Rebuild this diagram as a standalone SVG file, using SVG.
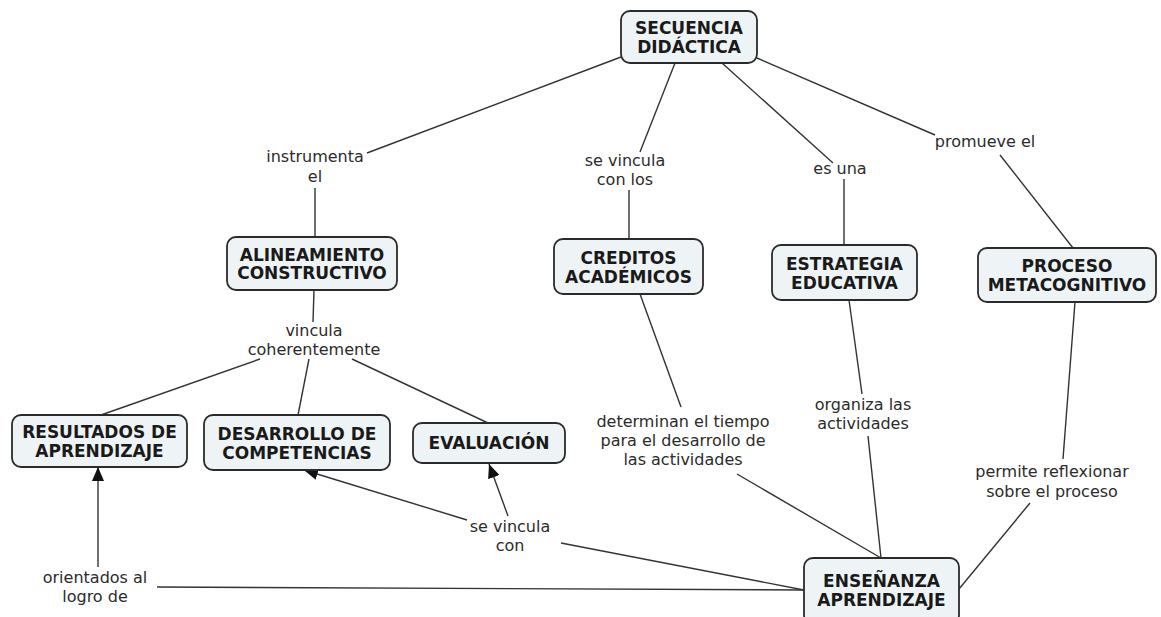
<svg xmlns="http://www.w3.org/2000/svg" width="1161" height="617" viewBox="0 0 1161 617">
<defs>
<style>
.box{fill:#eef3f5;stroke:#2b2b2b;stroke-width:1.8}
.nt{font-family:"DejaVu Sans",Verdana,sans-serif;font-size:17px;font-weight:bold;fill:#1a1a1a;text-anchor:middle}
.lt{font-family:"DejaVu Sans",Verdana,sans-serif;font-size:16px;fill:#2b2b2b;text-anchor:middle}
.ln{stroke:#333;stroke-width:1.4;fill:none}
</style>
<marker id="arr" viewBox="0 0 14 12" refX="14" refY="6" markerWidth="14" markerHeight="12" markerUnits="userSpaceOnUse" orient="auto">
<path d="M0,0 L14,6 L0,12 z" fill="#111"/>
</marker>
</defs>
<rect width="1161" height="617" fill="#fff"/>
<g id="connectors">
<line class="ln" x1="621" y1="57" x2="367" y2="153"/>
<line class="ln" x1="315" y1="188" x2="315" y2="237"/>
<line class="ln" x1="675" y1="63" x2="640" y2="152"/>
<line class="ln" x1="629" y1="190" x2="629" y2="239"/>
<line class="ln" x1="722" y1="63" x2="833" y2="163"/>
<line class="ln" x1="844" y1="179" x2="844" y2="245"/>
<line class="ln" x1="757" y1="58" x2="935" y2="135"/>
<line class="ln" x1="1000" y1="155" x2="1073" y2="248"/>
<line class="ln" x1="314" y1="290" x2="313" y2="322"/>
<line class="ln" x1="260" y1="359" x2="101" y2="415"/>
<line class="ln" x1="309" y1="359" x2="298" y2="415"/>
<line class="ln" x1="352" y1="359" x2="488" y2="423"/>
<line class="ln" x1="640" y1="294" x2="681" y2="407"/>
<line class="ln" x1="737" y1="474" x2="881" y2="558"/>
<line class="ln" x1="849" y1="300" x2="862" y2="394"/>
<line class="ln" x1="868" y1="436" x2="881" y2="558"/>
<line class="ln" x1="1075" y1="302" x2="1063" y2="459"/>
<line class="ln" x1="1030" y1="503" x2="959" y2="589"/>
<line class="ln" x1="561" y1="543" x2="804" y2="590"/>
<line class="ln" x1="157" y1="587" x2="804" y2="590"/>
<line class="ln" x1="98" y1="567" x2="98" y2="467" marker-end="url(#arr)"/>
<line class="ln" x1="467" y1="520" x2="304" y2="470" marker-end="url(#arr)"/>
<line class="ln" x1="508" y1="516" x2="489" y2="464" marker-end="url(#arr)"/>
</g>
<g id="labels">
<text class="lt" x="315" y="162">instrumenta</text>
<text class="lt" x="315" y="182">el</text>
<text class="lt" x="625" y="166">se vincula</text>
<text class="lt" x="625" y="185">con los</text>
<text class="lt" x="840" y="174">es una</text>
<text class="lt" x="985" y="147">promueve el</text>
<text class="lt" x="314" y="336">vincula</text>
<text class="lt" x="314" y="355">coherentemente</text>
<text class="lt" x="683" y="427">determinan el tiempo</text>
<text class="lt" x="683" y="446">para el desarrollo de</text>
<text class="lt" x="683" y="465">las actividades</text>
<text class="lt" x="863" y="410">organiza las</text>
<text class="lt" x="863" y="429">actividades</text>
<text class="lt" x="1052" y="477">permite reflexionar</text>
<text class="lt" x="1052" y="497">sobre el proceso</text>
<text class="lt" x="510" y="532">se vincula</text>
<text class="lt" x="510" y="551">con</text>
<text class="lt" x="95" y="583">orientados al</text>
<text class="lt" x="95" y="602">logro de</text>
</g>
<g id="n-secuencia">
<rect class="box" x="621" y="11" width="136" height="52" rx="9"/>
<text class="nt" x="689" y="34">SECUENCIA</text>
<text class="nt" x="689" y="53">DIDÁCTICA</text>
</g>
<g id="n-alineamiento">
<rect class="box" x="227" y="237" width="170" height="53" rx="9"/>
<text class="nt" x="312" y="261">ALINEAMIENTO</text>
<text class="nt" x="312" y="279">CONSTRUCTIVO</text>
</g>
<g id="n-creditos">
<rect class="box" x="554" y="239" width="149" height="55" rx="9"/>
<text class="nt" x="628.5" y="264">CREDITOS</text>
<text class="nt" x="628.5" y="283">ACADÉMICOS</text>
</g>
<g id="n-estrategia">
<rect class="box" x="772" y="245" width="145" height="55" rx="9"/>
<text class="nt" x="844.5" y="270">ESTRATEGIA</text>
<text class="nt" x="844.5" y="289">EDUCATIVA</text>
</g>
<g id="n-proceso">
<rect class="box" x="978" y="248" width="178" height="54" rx="9"/>
<text class="nt" x="1067" y="272">PROCESO</text>
<text class="nt" x="1067" y="291">METACOGNITIVO</text>
</g>
<g id="n-resultados">
<rect class="box" x="12" y="415" width="175" height="52" rx="9"/>
<text class="nt" x="99.5" y="438">RESULTADOS DE</text>
<text class="nt" x="99.5" y="457">APRENDIZAJE</text>
</g>
<g id="n-desarrollo">
<rect class="box" x="204" y="415" width="186" height="55" rx="9"/>
<text class="nt" x="297" y="440">DESARROLLO DE</text>
<text class="nt" x="297" y="459">COMPETENCIAS</text>
</g>
<g id="n-evaluacion">
<rect class="box" x="413" y="423" width="152" height="40" rx="9"/>
<text class="nt" x="489" y="449">EVALUACIÓN</text>
</g>
<g id="n-ensenanza">
<rect class="box" x="804" y="558" width="155" height="66" rx="9"/>
<text class="nt" x="881.5" y="587">ENSEÑANZA</text>
<text class="nt" x="881.5" y="606">APRENDIZAJE</text>
</g>
</svg>
